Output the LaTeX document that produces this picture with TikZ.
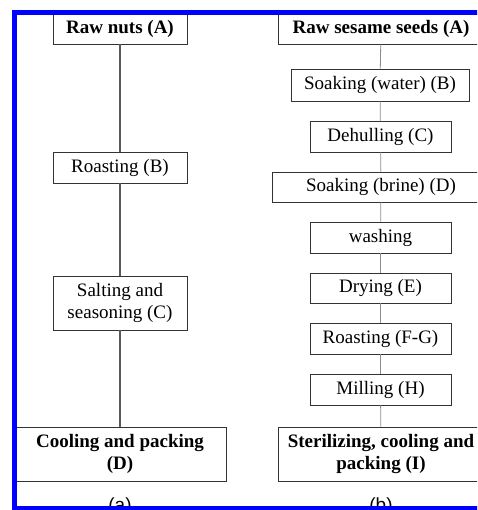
\documentclass[tikz,border=0pt]{standalone}
\usepackage{fontspec}
\setmainfont{Liberation Serif}
\newfontfamily\labfont{Liberation Sans}
\begin{document}
\begin{tikzpicture}[x=1pt,y=-1pt,
  stepbox/.style={draw=black!80, line width=0.9pt, inner sep=0pt, align=center,
    font=\fontsize{19}{22}\selectfont},
  bstepbox/.style={stepbox, font=\fontsize{19}{22}\selectfont\bfseries},
  lline/.style={draw=black!65, line width=1.2pt},
  rline/.style={draw=black!45, line width=0.8pt},
  sublab/.style={font=\labfont\fontsize{19}{22}\selectfont, inner sep=0pt, anchor=base}]
\useasboundingbox (0,0) rectangle (477,510);
\clip (0,0) rectangle (477,510);
% left column
\node[bstepbox, minimum width=134pt, minimum height=30pt] (la) at (120,29) {Raw nuts (A)};
\node[stepbox, minimum width=134pt, minimum height=31pt] (lb) at (120,167.5) {Roasting (B)};
\node[stepbox, minimum width=134pt, minimum height=54pt] (lc) at (120,303) {Salting and\\seasoning (C)};
\node[bstepbox, minimum width=212pt, minimum height=54pt] (ld) at (120,454) {Cooling and packing\\(D)};
\draw[lline] (la) -- (lb);
\draw[lline] (lb) -- (lc);
\draw[lline] (lc) -- (ld);
% right column
\node[bstepbox, minimum width=206pt, minimum height=30pt] (ra) at (381,29) {Raw sesame seeds (A)};
\node[stepbox, minimum width=178pt, minimum height=32pt] (rb) at (380,85) {Soaking (water) (B)};
\node[stepbox, minimum width=141pt, minimum height=31pt] (rc) at (380.5,136.5) {Dehulling (C)};
\node[stepbox, minimum width=218pt, minimum height=30pt] (rd) at (381,187) {Soaking (brine) (D)};
\node[stepbox, minimum width=141pt, minimum height=31pt] (re) at (380.5,237.5) {washing};
\node[stepbox, minimum width=141pt, minimum height=30pt] (rf) at (380.5,288) {Drying (E)};
\node[stepbox, minimum width=141pt, minimum height=31pt] (rg) at (380.5,338.5) {Roasting (F-G)};
\node[stepbox, minimum width=141pt, minimum height=31pt] (rh) at (380.5,389.5) {Milling (H)};
\node[bstepbox, minimum width=206pt, minimum height=54pt] (ri) at (381,454) {Sterilizing, cooling and\\packing (I)};
\draw[rline] (ra) -- (rb);
\draw[rline] (rb) -- (rc);
\draw[rline] (rc) -- (rd);
\draw[rline] (rd) -- (re);
\draw[rline] (re) -- (rf);
\draw[rline] (rf) -- (rg);
\draw[rline] (rg) -- (rh);
\draw[rline] (rh) -- (ri);
% sub labels
\node[sublab] (sa) at (120,511) {(a)};
\node[sublab] (sb) at (381,511) {(b)};
% blue frame
\draw[blue, line width=4.6pt] (600,12.5) -- (14.5,12.5) -- (14.5,508) -- (600,508);
\end{tikzpicture}
\end{document}
